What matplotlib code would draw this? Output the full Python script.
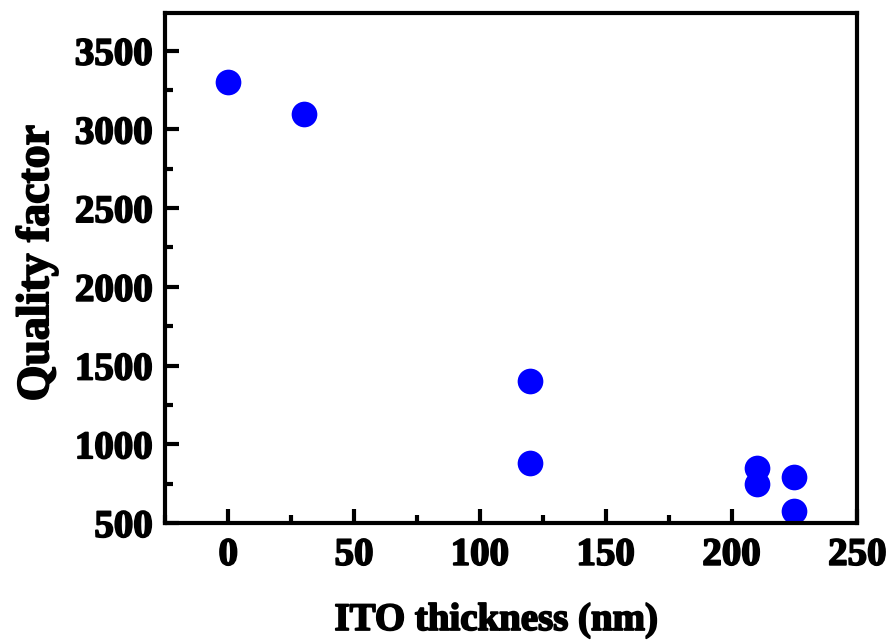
import matplotlib
matplotlib.use("Agg")
import matplotlib.pyplot as plt
import matplotlib.patheffects as pe
from matplotlib.ticker import MultipleLocator

# ITO thickness (nm) vs measured quality factor
thickness = [0, 30, 120, 120, 210, 210, 225, 225]
quality = [3300, 3100, 1400, 880, 850, 745, 790, 575]

x_ticks = [0, 50, 100, 150, 200, 250]
y_ticks = [500, 1000, 1500, 2000, 2500, 3000, 3500]

plt.rcParams['font.family'] = ['Liberation Serif', 'DejaVu Serif']
plt.rcParams['font.weight'] = 'bold'

fig = plt.figure(figsize=(8.94, 6.44), dpi=100)
ax = fig.add_axes([0.185, 0.188, 0.774, 0.792])

ax.plot(thickness, quality, 'o', color='#0000ff', markersize=18.5,
        markeredgewidth=0, clip_on=False)

ax.set_xlim(-25, 249)
ax.set_ylim(500, 3740)
ax.set_xticks(x_ticks)
ax.set_yticks(y_ticks)
ax.xaxis.set_minor_locator(MultipleLocator(25))
ax.yaxis.set_minor_locator(MultipleLocator(250))

ax.tick_params(which='both', direction='in', width=3, top=False, right=False,
               labelsize=28)
ax.tick_params(which='major', length=10)
ax.tick_params(which='minor', length=6)
ax.tick_params(axis='y', pad=9)
ax.tick_params(axis='x', pad=10)

heavy = [pe.withStroke(linewidth=1.3, foreground='black')]
for lab in ax.get_xticklabels() + ax.get_yticklabels():
    lab.set_fontweight('bold')
    lab.set_path_effects(heavy)

for s in ax.spines.values():
    s.set_linewidth(3)

ax.set_xlabel('ITO thickness (nm)', fontsize=28, fontweight='bold', path_effects=heavy)
ax.set_ylabel('Quality factor', fontsize=33, fontweight='bold', path_effects=heavy)
ax.xaxis.set_label_coords(0.478, -0.155)
ax.yaxis.set_label_coords(-0.155, 0.51)

fig.savefig('out.png', dpi=100)
